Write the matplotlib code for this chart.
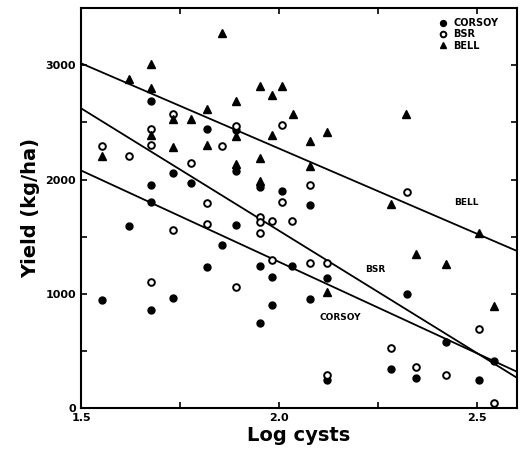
import numpy as np
import matplotlib
matplotlib.use("Agg")
import matplotlib.pyplot as plt

# log cyst counts and yields (kg/ha)
corsoy_x = [1.554, 1.621, 1.677, 1.677, 1.677, 1.677, 1.732, 1.732, 1.777, 1.817,
            1.817, 1.855, 1.891, 1.891, 1.891, 1.952, 1.952, 1.952, 1.982, 1.982,
            2.007, 2.032, 2.078, 2.078, 2.120, 2.120, 2.283, 2.322, 2.345, 2.421,
            2.503, 2.541]
corsoy_y = [947, 1591, 2684, 1956, 1807, 857, 2055, 962, 1968, 2445,
            1237, 1427, 2430, 2079, 1605, 1932, 1246, 743, 1149, 904,
            1897, 1240, 1780, 959, 1143, 246, 339, 998, 260, 575,
            245, 414]

bsr_x = [1.554, 1.621, 1.677, 1.677, 1.677, 1.732, 1.731, 1.777, 1.817, 1.817,
         1.855, 1.891, 1.891, 1.952, 1.952, 1.952, 1.982, 1.982, 2.007, 2.007,
         2.032, 2.078, 2.078, 2.120, 2.120, 2.283, 2.322, 2.345, 2.421, 2.503,
         2.541]
bsr_y = [2298, 2205, 2445, 2304, 1105, 2570, 1561, 2146, 1792, 1611,
         2292, 2470, 1061, 1675, 1626, 1529, 1634, 1295, 2482, 1801,
         1634, 1953, 1269, 1269, 289, 528, 1894, 362, 289, 689,
         41]

bell_x = [1.554, 1.621, 1.677, 1.677, 1.677, 1.732, 1.732, 1.777, 1.817, 1.817,
          1.855, 1.891, 1.891, 1.891, 1.952, 1.952, 1.952, 1.982, 1.982, 2.007,
          2.034, 2.078, 2.078, 2.120, 2.120, 2.283, 2.321, 2.345, 2.421, 2.503,
          2.541]
bell_y = [2205, 2883, 3015, 2804, 2386, 2532, 2284, 2532, 2620, 2307,
          3287, 2684, 2380, 2137, 2816, 2187, 1991, 2743, 2386, 2816,
          2576, 2336, 2117, 2415, 1012, 1784, 2576, 1346, 1261, 1535,
          896]

# regression lines: yield at log cysts = 1.5 and 2.6
line_x = [1.5, 2.6]
corsoy_line = [2080, 318]
bsr_line = [2624, 265]
bell_line = [3018, 1375]

fig = plt.figure(figsize=(5.26, 4.55), dpi=100)
ax = fig.add_axes([0.154, 0.103, 0.829, 0.879])

ax.plot(line_x, bell_line, color='black', lw=1.3)
ax.plot(line_x, bsr_line, color='black', lw=1.3)
ax.plot(line_x, corsoy_line, color='black', lw=1.3)

ax.plot(corsoy_x, corsoy_y, 'o', color='black', ms=5, label='CORSOY')
ax.plot(bsr_x, bsr_y, 'o', mfc='white', mec='black', mew=1.4, ms=4.8, label='BSR')
ax.plot(bell_x, bell_y, '^', color='black', ms=5.5, label='BELL')

ax.text(2.44, 1800, 'BELL', fontsize=6.5, fontweight='bold', ha='left', va='center')
ax.text(2.242, 1215, 'BSR', fontsize=6.5, fontweight='bold', ha='center', va='center')
ax.text(2.154, 795, 'CORSOY', fontsize=6.5, fontweight='bold', ha='center', va='center')

ax.set_xlim(1.5, 2.6)
ax.set_ylim(0, 3500)
ax.set_xticks([1.5, 2.0, 2.5])
ax.set_xticks([1.75, 2.25], minor=True)
ax.set_xticklabels(['1.5', '2.0', '2.5'])
ax.set_yticks([0, 1000, 2000, 3000])
ax.set_yticks([500, 1500, 2500], minor=True)
ax.tick_params(which='both', direction='in', top=True, right=True, length=4, width=1.2,
               labelsize=8)
for lab in ax.get_xticklabels() + ax.get_yticklabels():
    lab.set_fontweight('bold')
for s in ax.spines.values():
    s.set_linewidth(1.5)

ax.set_xlabel('Log cysts', fontsize=14, fontweight='bold', labelpad=2)
ax.set_ylabel('Yield (kg/ha)', fontsize=14, fontweight='bold', labelpad=4)

leg = ax.legend(loc='upper right', frameon=False, fontsize=7, handletextpad=0.7,
                labelspacing=0.15, borderaxespad=0.6, handlelength=0.8,
                markerscale=0.85, bbox_to_anchor=(0.98, 1.0))
for t in leg.get_texts():
    t.set_fontweight('bold')

fig.savefig('out.png', dpi=100)
